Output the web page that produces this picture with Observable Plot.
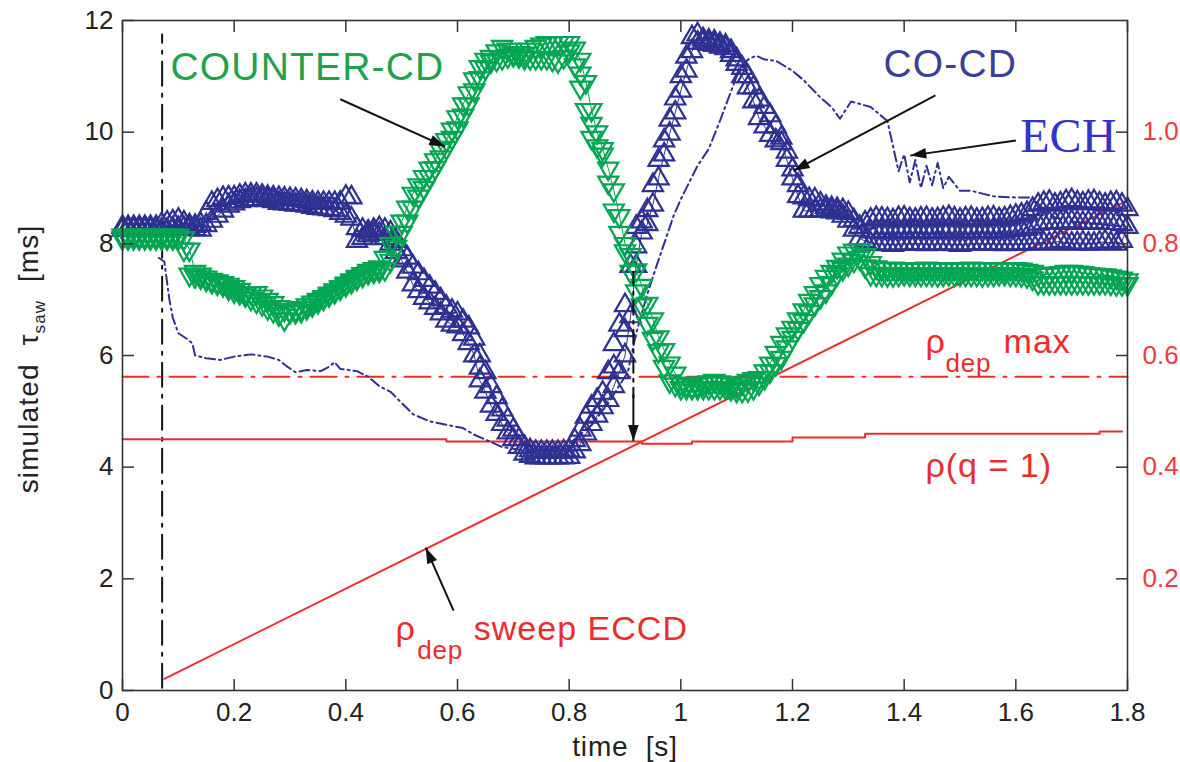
<!DOCTYPE html>
<html><head><meta charset="utf-8">
<script src="https://cdn.jsdelivr.net/npm/d3@7"></script>
<script src="https://cdn.jsdelivr.net/npm/@observablehq/plot@0.6"></script>
<style>body{margin:0;background:#fff;}</style>
</head><body><div id="chart"></div>
<script>
// ---- data ----
// CO-CD: [time s, tau values (ms) of the markers at that time, top to bottom]
const coCD = [
[0.00,8.30,8.25],[0.01,8.30,8.25],[0.02,8.30,8.25],[0.03,8.30,8.25],[0.04,8.30,8.25],[0.05,8.30,8.25],
[0.06,8.30,8.25],[0.07,8.35,8.25],[0.08,8.38,8.25],[0.09,8.40,8.27],[0.10,8.43,8.28],[0.11,8.38,8.28],
[0.12,8.33,8.28],[0.13,8.32,8.26],[0.14,8.35,8.25],[0.15,8.55,8.33],[0.16,8.73,8.41],[0.17,8.78,8.50],
[0.18,8.82,8.59],[0.19,8.83,8.68],[0.20,8.83,8.72],[0.21,8.86,8.76],[0.22,8.88,8.78],[0.23,8.88,8.80],
[0.24,8.88,8.80],[0.25,8.86,8.79],[0.26,8.84,8.78],[0.27,8.83,8.76],[0.28,8.82,8.73],[0.29,8.81,8.72],
[0.30,8.80,8.71],[0.31,8.79,8.70],[0.32,8.78,8.70],[0.33,8.76,8.68],[0.34,8.74,8.66],[0.35,8.73,8.64],
[0.36,8.73,8.63],[0.37,8.73,8.62],[0.38,8.73,8.60],[0.39,8.74,8.55],[0.40,8.84,8.50],[0.41,8.83,8.45],
[0.42,8.28,8.05],[0.43,8.25,8.10],[0.44,8.22,8.15],[0.45,8.25,8.18],[0.46,8.28,8.18],[0.47,8.25,8.10],
[0.48,8.20,8.00],[0.49,8.05,7.85],[0.50,7.90,7.70],[0.51,7.75,7.50],[0.52,7.59,7.27],[0.53,7.47,7.15],
[0.54,7.35,7.03],[0.55,7.23,6.95],[0.56,7.12,6.85],[0.57,7.00,6.75],[0.58,6.87,6.62],[0.59,6.80,6.55],
[0.60,6.75,6.52],[0.61,6.62,6.38],[0.62,6.50,6.22],[0.63,6.30,6.00],[0.64,6.00,5.78,5.55],[0.65,5.70,5.35],
[0.66,5.45,5.10],[0.67,5.25,4.95],[0.68,5.03,4.77],[0.69,4.85,4.62],[0.70,4.67,4.50],[0.71,4.50,4.36],
[0.72,4.36,4.24],[0.73,4.30,4.20],[0.74,4.27,4.17],[0.75,4.27,4.17],[0.76,4.27,4.17],[0.77,4.27,4.17],
[0.78,4.27,4.17],[0.79,4.28,4.17],[0.80,4.30,4.18],[0.81,4.48,4.28],[0.82,4.67,4.41],[0.83,4.90,4.60],
[0.84,5.08,4.77],[0.85,5.20,4.92],[0.86,5.33,5.07],[0.87,5.70,5.20],[0.88,6.20,5.80,5.45],[0.89,6.55,5.70],
[0.90,6.90,6.45,6.00],[0.91,7.60,6.70],[0.92,8.30,7.95,7.60],[0.93,8.40,8.20],[0.94,8.60,8.35],
[0.95,9.05,8.70],[0.96,9.50,9.17],[0.97,9.85,9.60],[0.98,10.22,9.97],[0.99,10.60,10.35],[1.00,11.00,10.74],
[1.01,11.35,11.10],[1.02,11.70,11.45],[1.03,11.75,11.60],[1.04,11.66,11.60],[1.05,11.64,11.58],
[1.06,11.62,11.56],[1.07,11.58,11.53],[1.08,11.55,11.50],[1.09,11.45,11.38],[1.10,11.30,11.22],
[1.11,11.15,11.00],[1.12,11.00,10.80],[1.13,10.80,10.55],[1.14,10.58,10.25],[1.15,10.45,10.10],
[1.16,10.30,9.95],[1.17,10.10,9.85],[1.18,9.90,9.80],[1.19,9.65,9.50],[1.20,9.33,9.17],[1.21,9.05,8.85],
[1.22,8.83,8.59],[1.23,8.80,8.59],[1.24,8.79,8.59],[1.25,8.72,8.60],[1.26,8.66,8.60],[1.27,8.64,8.58],
[1.28,8.62,8.56],[1.29,8.60,8.50],[1.30,8.55,8.41],[1.31,8.42,8.25],[1.32,8.30,8.10],[1.33,8.38,8.05],
[1.34,8.43,8.22,8.00],[1.35,8.46,8.22,8.00],[1.36,8.45,8.22,8.00],[1.37,8.44,8.21,7.99],[1.38,8.42,8.20,7.98],
[1.39,8.46,8.22,8.00],[1.40,8.47,8.23,8.00],[1.41,8.44,8.22,8.00],[1.42,8.43,8.22,8.01],[1.43,8.45,8.21,8.00],
[1.44,8.46,8.22,7.99],[1.45,8.43,8.22,8.00],[1.46,8.44,8.21,8.00],[1.47,8.46,8.23,8.00],[1.48,8.48,8.24,8.00],
[1.49,8.45,8.22,7.99],[1.50,8.43,8.20,7.98],[1.51,8.45,8.22,8.00],[1.52,8.46,8.23,8.00],[1.53,8.43,8.22,8.00],
[1.54,8.44,8.22,8.01],[1.55,8.46,8.22,8.00],[1.56,8.47,8.23,8.00],[1.57,8.44,8.22,8.00],[1.58,8.45,8.22,7.99],
[1.59,8.48,8.24,8.00],[1.60,8.50,8.25,8.00],[1.61,8.52,8.26,8.00],[1.62,8.55,8.27,8.00],[1.63,8.62,8.30,8.01],
[1.64,8.70,8.36,8.02],[1.65,8.73,8.37,8.01],[1.66,8.75,8.38,8.00],[1.67,8.70,8.37,8.03],[1.68,8.72,8.38,8.05],
[1.69,8.76,8.39,8.01],[1.70,8.78,8.40,8.00],[1.71,8.74,8.38,8.01],[1.72,8.72,8.37,8.02],[1.73,8.75,8.38,8.00],
[1.74,8.76,8.38,8.00],[1.75,8.72,8.37,8.02],[1.76,8.70,8.37,8.04],[1.77,8.73,8.37,8.01],[1.78,8.74,8.37,8.00],
[1.79,8.70,8.35,8.05],[1.80,8.62,8.30]
];
// COUNTER-CD: [time s, tau values (ms) of the markers at that time, top to bottom]
const counterCD = [
[0.00,8.15,8.10],[0.01,8.15,8.10],[0.02,8.15,8.10],[0.03,8.15,8.10],[0.04,8.15,8.10],[0.05,8.15,8.10],
[0.06,8.15,8.10],[0.07,8.15,8.10],[0.08,8.15,8.10],[0.09,8.15,8.10],[0.10,8.15,8.10],[0.11,8.10,7.90],
[0.12,7.90,7.45],[0.13,7.50,7.42],[0.14,7.45,7.40],[0.15,7.40,7.36],[0.16,7.36,7.32],[0.17,7.33,7.29],
[0.18,7.30,7.26],[0.19,7.27,7.20],[0.20,7.23,7.15],[0.21,7.18,7.12],[0.22,7.12,7.08],[0.23,7.12,7.02],
[0.24,7.12,6.97],[0.25,7.06,6.92],[0.26,7.00,6.85],[0.27,6.94,6.80],[0.28,6.87,6.74],[0.29,6.82,6.65],
[0.30,6.80,6.78],[0.31,6.82,6.78],[0.32,6.85,6.80],[0.33,6.90,6.85],[0.34,6.95,6.90],[0.35,7.00,6.96],
[0.36,7.05,7.02],[0.37,7.11,7.08],[0.38,7.17,7.14],[0.39,7.23,7.20],[0.40,7.29,7.26],[0.41,7.35,7.32],
[0.42,7.41,7.38],[0.43,7.46,7.43],[0.44,7.52,7.48],[0.45,7.55,7.50],[0.46,7.58,7.52],[0.47,7.75,7.55],
[0.48,8.00,7.70],[0.49,8.20,7.95],[0.50,8.40,8.20],[0.51,8.65,8.40],[0.52,8.90,8.65],[0.53,9.05,8.85],
[0.54,9.20,9.00],[0.55,9.35,9.20],[0.56,9.50,9.36],[0.57,9.68,9.55],[0.58,9.86,9.72],[0.59,10.05,9.90],
[0.60,10.27,10.07],[0.61,10.50,10.30],[0.62,10.70,10.50],[0.63,10.95,10.75],[0.64,11.17,10.97],
[0.65,11.30,11.15],[0.66,11.35,11.27],[0.67,11.45,11.30],[0.68,11.53,11.33],[0.69,11.48,11.36],
[0.70,11.42,11.38],[0.71,11.42,11.36],[0.72,11.41,11.33],[0.73,11.48,11.33],[0.74,11.53,11.33],
[0.75,11.57,11.33],[0.76,11.60,11.33],[0.77,11.60,11.30],[0.78,11.60,11.27],[0.79,11.60,11.35],
[0.80,11.60,11.45],[0.81,11.50,11.20],[0.82,11.30,11.05,10.80],[0.83,10.90,10.40],[0.84,10.40,10.15,9.90],
[0.85,10.00,9.75],[0.86,9.70,9.60],[0.87,9.35,9.10],[0.88,8.96,8.60],[0.89,8.50,8.20],[0.90,8.00,7.87],
[0.91,7.80,7.50],[0.92,7.53,7.15],[0.93,7.25,6.90],[0.94,6.93,6.57],[0.95,6.65,6.30],[0.96,6.33,6.08],
[0.97,6.10,5.80],[0.98,5.86,5.54],[0.99,5.68,5.48],[1.00,5.50,5.42],[1.01,5.48,5.42],[1.02,5.45,5.42],
[1.03,5.48,5.42],[1.04,5.50,5.42],[1.05,5.52,5.42],[1.06,5.55,5.42],[1.07,5.52,5.42],[1.08,5.50,5.42],
[1.09,5.48,5.40],[1.10,5.45,5.37],[1.11,5.50,5.37],[1.12,5.55,5.38],[1.13,5.58,5.42],[1.14,5.60,5.50],
[1.15,5.72,5.60],[1.16,5.86,5.72],[1.17,6.05,5.85],[1.18,6.23,5.96],[1.19,6.38,6.15],[1.20,6.50,6.32],
[1.21,6.65,6.48],[1.22,6.81,6.62],[1.23,6.98,6.78],[1.24,7.12,6.92],[1.25,7.28,7.05],[1.26,7.41,7.15],
[1.27,7.50,7.30],[1.28,7.59,7.46],[1.29,7.72,7.55],[1.30,7.83,7.63],[1.31,7.88,7.70],[1.32,7.89,7.75],
[1.33,7.80,7.60],[1.34,7.66,7.46],[1.35,7.58,7.45],[1.36,7.55,7.45],[1.37,7.55,7.44],[1.38,7.56,7.44],
[1.39,7.55,7.45],[1.40,7.55,7.46],[1.41,7.54,7.45],[1.42,7.54,7.45],[1.43,7.55,7.45],[1.44,7.56,7.45],
[1.45,7.55,7.45],[1.46,7.55,7.44],[1.47,7.54,7.45],[1.48,7.55,7.46],[1.49,7.55,7.45],[1.50,7.54,7.45],
[1.51,7.55,7.45],[1.52,7.56,7.45],[1.53,7.55,7.45],[1.54,7.55,7.44],[1.55,7.55,7.45],[1.56,7.55,7.45],
[1.57,7.55,7.46],[1.58,7.54,7.46],[1.59,7.55,7.45],[1.60,7.55,7.45],[1.61,7.54,7.44],[1.62,7.52,7.42],
[1.63,7.50,7.38],[1.64,7.45,7.30],[1.65,7.45,7.30],[1.66,7.45,7.30],[1.67,7.47,7.30],[1.68,7.48,7.30],
[1.69,7.50,7.30],[1.70,7.50,7.30],[1.71,7.49,7.30],[1.72,7.48,7.30],[1.73,7.46,7.30],[1.74,7.45,7.30],
[1.75,7.44,7.30],[1.76,7.44,7.30],[1.77,7.42,7.29],[1.78,7.40,7.28],[1.79,7.38,7.28],[1.80,7.35,7.28]
];
// ECH: [time s, tau ms]
const ech = [
[0.065,7.75],[0.075,7.68],[0.08,7.30],[0.084,7.00],[0.09,6.68],[0.10,6.40],[0.115,6.30],[0.125,6.22],
[0.13,6.00],[0.15,5.95],[0.175,5.92],[0.20,5.98],[0.23,6.02],[0.26,5.98],[0.28,5.92],[0.295,5.80],
[0.31,5.70],[0.33,5.74],[0.355,5.72],[0.37,5.80],[0.38,5.88],[0.39,5.76],[0.42,5.72],[0.44,5.62],
[0.46,5.45],[0.48,5.35],[0.50,5.15],[0.52,4.95],[0.55,4.82],[0.58,4.76],[0.61,4.70],[0.63,4.58],
[0.66,4.45],[0.68,4.36],[0.72,4.30],[0.76,4.30],[0.80,4.42],[0.84,4.75],[0.87,5.15],[0.905,5.70],
[0.92,6.40],[0.94,7.10],[0.958,7.65],[0.97,8.00],[0.987,8.50],[1.00,8.80],[1.015,9.10],[1.03,9.40],
[1.05,9.70],[1.07,10.20],[1.085,10.60],[1.10,11.00],[1.12,11.30],[1.135,11.37],[1.15,11.30],[1.17,11.28],
[1.20,11.10],[1.22,10.93],[1.25,10.62],[1.27,10.45],[1.285,10.24],[1.305,10.55],[1.34,10.45],[1.37,10.20],
[1.38,9.75],[1.39,9.30],[1.40,9.60],[1.41,9.10],[1.42,9.50],[1.43,9.00],[1.44,9.40],[1.45,9.05],
[1.46,9.45],[1.47,9.00],[1.48,9.20],[1.50,8.95],[1.52,8.95],[1.56,8.85],[1.60,8.83],[1.63,8.83],
[1.66,8.50],[1.70,8.40],[1.75,8.35],[1.80,8.30]
];
// rho(q=1): [time s, rho]
const rhoQ1 = [[0,0.450],[0.58,0.446],[0.93,0.442],[1.02,0.446],[1.20,0.453],[1.33,0.460],[1.75,0.464],[1.79,0.464]];
// rho_dep sweep ECCD: [time s, rho]
const rhoSweep = [[0.075,0.021],[1.80,0.878]];
// rho_dep max: [time s, rho]
const rhoDepMax = [[0,0.562],[1.80,0.562]];
// start of ECCD (vertical dash-dot): [time s, tau ms]
const startLine = [[0.071,0.05],[0.071,11.75]];
const crossLine = [[0.915,7.5],[0.915,5.25]];

// tick labels
const xTicks = [0,0.2,0.4,0.6,0.8,1.0,1.2,1.4,1.6,1.8];
const yTicks = [0,2,4,6,8,10,12];
const rhoTicks = [0.2,0.4,0.6,0.8,1.0];

// annotations (data coordinates)
const arrows = [
  {x1:0.390,y1:10.59,x2:0.578,y2:9.74},
  {x1:1.456,y1:10.66,x2:1.202,y2:9.31},
  {x1:1.600,y1:9.85,x2:1.411,y2:9.58},
  {x1:0.593,y1:1.43,x2:0.543,y2:2.56},
  {x1:0.915,y1:5.30,x2:0.915,y2:4.47}
];
const SANS = "Liberation Sans, Arial, Helvetica, sans-serif";
const SERIF = "Liberation Serif, Times New Roman, serif";
const RED = "#ee2b2b", BLUE = "#2e3192", GREEN = "#00a651";
const labels = [
  {text:"COUNTER-CD", x:0.086, y:10.93, size:39, color:"#1ea24c", font:SANS},
  {text:"CO-CD", x:1.363, y:10.98, size:39, color:"#3a3f98", font:SANS},
  {text:"ECH", x:1.608, y:9.64, size:48, color:"#3333cc", font:SERIF},
  {text:"ρ", x:1.438, y:6.05, size:34, color:RED, font:SANS},
  {text:"dep", x:1.474, y:5.70, size:26, color:RED, font:SANS},
  {text:"max", x:1.578, y:6.04, size:34, color:RED, font:SANS},
  {text:"ρ(q = 1)", x:1.438, y:3.83, size:34, color:RED, font:SANS},
  {text:"ρ", x:0.489, y:0.90, size:34, color:RED, font:SANS},
  {text:"dep", x:0.528, y:0.57, size:26, color:RED, font:SANS},
  {text:"sweep ECCD", x:0.629, y:0.90, size:34, color:RED, font:SANS}
];

// ---- layout ----
const W = 1180, H = 762, ML = 122, MR = 53, MT = 20, MB = 72;
const kx = (W - ML - MR) / 1.8, ky = (H - MT - MB) / 12;

const pts = rows => rows.flatMap(([t, ...vs]) => vs.map(v => ({t, v})));
const headSymbol = {draw(ctx, size) { const s = Math.sqrt(size); ctx.moveTo(0, 0); ctx.lineTo(-s * 0.5, s * 1.5); ctx.lineTo(s * 0.5, s * 1.5); ctx.closePath(); }};
const fmtX = d => String(+d.toFixed(1));

const svg = Plot.plot({
  width: W, height: H,
  marginLeft: ML, marginRight: MR, marginTop: MT, marginBottom: MB,
  x: {domain: [0, 1.8]},
  y: {domain: [0, 12]},
  style: {fontFamily: SANS, fontSize: "26px", color: "#222", background: "#fff"},
  marks: [
    // reference lines
    Plot.line(startLine, {x: d => d[0], y: d => d[1], stroke: "#111", strokeWidth: 2, strokeDasharray: "24,8,3,8"}),
    Plot.line(rhoDepMax, {x: d => d[0], y: d => d[1] * 10, stroke: RED, strokeWidth: 2, strokeDasharray: "26,9,3,9"}),
    Plot.line(rhoQ1, {x: d => d[0], y: d => d[1] * 10, stroke: RED, strokeWidth: 2, curve: "step-after"}),
    Plot.line(rhoSweep, {x: d => d[0], y: d => d[1] * 10, stroke: RED, strokeWidth: 2}),
    Plot.line(ech, {x: d => d[0], y: d => d[1], stroke: BLUE, strokeWidth: 2, strokeDasharray: "10,4,2,4"}),
    // CO-CD
    Plot.line(coCD, {x: d => d[0], y: d => d[d.length - 1], stroke: BLUE, strokeWidth: 1}),
    Plot.dot(pts(coCD), {x: "t", y: "v", symbol: "triangle", r: 7.5, stroke: BLUE, strokeWidth: 2.2, fill: "none"}),
    // COUNTER-CD
    Plot.line(counterCD, {x: d => d[0], y: d => d[1], stroke: GREEN, strokeWidth: 1}),
    Plot.dot(pts(counterCD), {x: "t", y: "v", symbol: "triangle", rotate: 180, r: 7.5, stroke: GREEN, strokeWidth: 2.2, fill: "none"}),
    // crossing marker line
    Plot.line(crossLine, {x: d => d[0], y: d => d[1], stroke: "#111", strokeWidth: 2, strokeDasharray: "14,6,3,6"}),
    // arrows
    Plot.link(arrows, {x1: "x1", y1: "y1", x2: "x2", y2: "y2", stroke: "#111", strokeWidth: 2}),
    Plot.dot(arrows, {x: "x2", y: "y2", symbol: headSymbol, r: 6, fill: "#111", stroke: "none",
      rotate: d => Math.atan2((d.x2 - d.x1) * kx, (d.y2 - d.y1) * ky) * 180 / Math.PI}),
    // labels
    ...labels.map(l => Plot.text([l], {x: "x", y: "y", text: "text", fontSize: l.size, fill: l.color, fontFamily: l.font, textAnchor: "start", lineAnchor: "bottom"})),
    Plot.text([0], {frameAnchor: "bottom", text: () => "time\u00a0\u00a0[s]", dy: 65, lineAnchor: "bottom", fontSize: 28, fill: "#222"}),
    // axes
    Plot.frame({stroke: "#333", strokeWidth: 1.6}),
    Plot.axisX({ticks: xTicks, anchor: "bottom", tickSize: -11, tickPadding: 23, tickFormat: fmtX, label: null, stroke: "#333", strokeWidth: 1.5}),
    Plot.axisX({ticks: xTicks, anchor: "top", tickSize: -11, tickFormat: () => "", label: null, stroke: "#333", strokeWidth: 1.5}),
    Plot.axisY({ticks: yTicks, anchor: "left", tickSize: -12, tickPadding: 21, label: null, stroke: "#333", strokeWidth: 1.5}),
    Plot.axisY({ticks: rhoTicks.map(r => r * 10), anchor: "right", tickSize: -12, tickPadding: 27, tickFormat: d => (d / 10).toFixed(1), label: null, stroke: "#333", fill: "#f03c3c", strokeWidth: 1.5})
  ]
});

// y axis title with subscript
const s = d3.select(svg);
const yl = s.append("text")
  .attr("transform", "translate(38,359) rotate(-90)")
  .attr("text-anchor", "middle")
  .attr("font-family", SANS).attr("font-size", 28).attr("fill", "#222")
  .style("letter-spacing", "0.04em");
yl.append("tspan").text("simulated\u00a0\u00a0τ");
yl.append("tspan").attr("font-size", 17).attr("dy", 7).text("saw");
yl.append("tspan").attr("dy", -7).text("\u00a0\u00a0[ms]");
s.selectAll('g[aria-label="text"]').filter(function(){ return !(this.getAttribute("font-family") || "").startsWith("Liberation Serif"); })
  .selectAll("text").style("letter-spacing", "0.03em");

document.getElementById("chart").appendChild(svg);
</script>
</body></html>
